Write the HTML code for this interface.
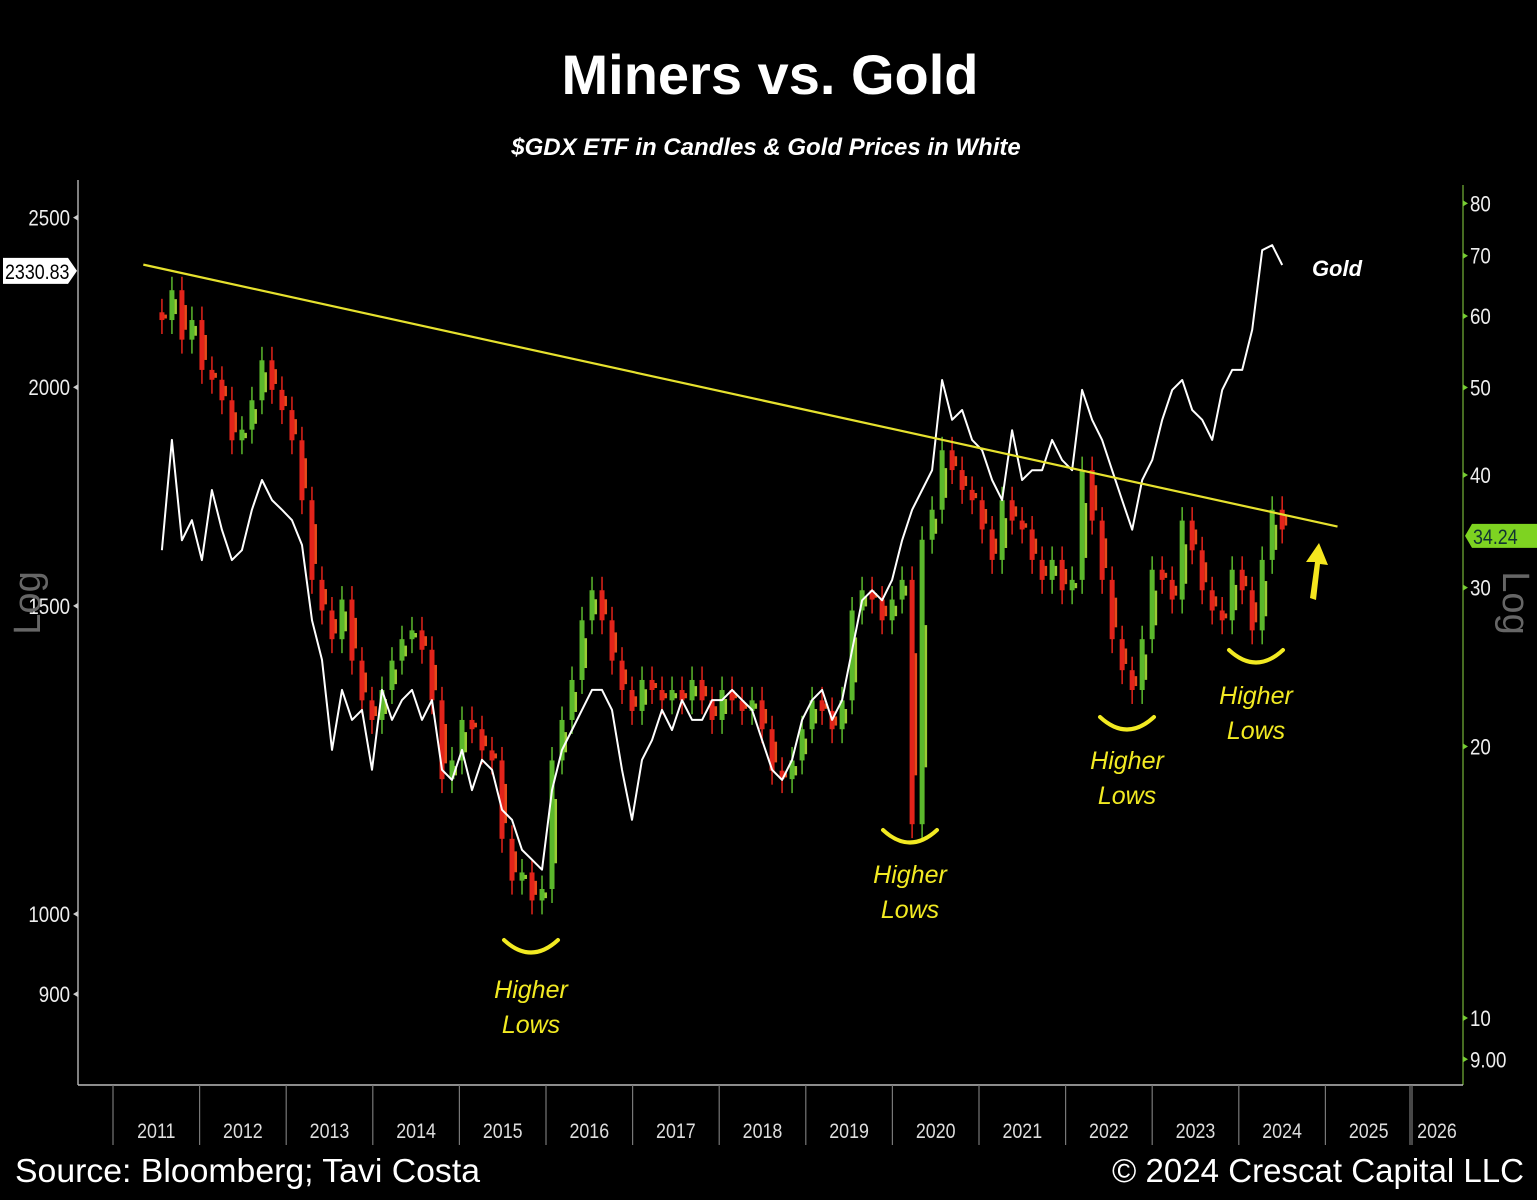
<!DOCTYPE html>
<html><head><meta charset="utf-8"><style>
html,body{margin:0;padding:0;background:#000;}
body{width:1537px;height:1200px;overflow:hidden;position:relative;font-family:"Liberation Sans",sans-serif;}
</style></head><body>
<svg id="chart" width="1537" height="1200" xmlns="http://www.w3.org/2000/svg" style="position:absolute;left:0;top:0">
<rect width="1537" height="1200" fill="#000"/>
<text x="770" y="94" text-anchor="middle" fill="#fff" font-size="56" font-weight="bold" font-family="Liberation Sans, sans-serif">Miners vs. Gold</text>
<text x="766" y="155" text-anchor="middle" fill="#fff" font-size="24" font-weight="bold" font-style="italic" font-family="Liberation Sans, sans-serif">$GDX ETF in Candles &amp; Gold Prices in White</text>
<g id="axes"></g>
<g id="candles"></g>
<g id="gold"></g>
<g id="annot"></g>
<text x="15" y="1182" fill="#fff" font-size="33" textLength="465" lengthAdjust="spacingAndGlyphs" font-family="Liberation Sans, sans-serif">Source: Bloomberg; Tavi Costa</text>
<text x="1112" y="1182" fill="#fff" font-size="33" textLength="412" lengthAdjust="spacingAndGlyphs" font-family="Liberation Sans, sans-serif">© 2024 Crescat Capital LLC</text>
</svg>
<script>
const yearLabels=["2011","2012","2013","2014","2015","2016","2017","2018","2019","2020","2021","2022","2023","2024","2025","2026"];
const goldTicks=[900,1000,1500,2000,2500];
const gdxTicks=[9,10,20,30,40,50,60,70,80];
const gdxTickLabels=["9.00","10","20","30","40","50","60","70","80"];
const seriesStart=2011.565;
const seriesStep=0.1155;
const goldPrices=[1614,1866,1635,1679,1593,1747,1658,1593,1614,1702,1770,1724,1702,1679,1625,1472,1397,1241,1343,1291,1308,1209,1343,1291,1325,1343,1291,1325,1209,1193,1241,1177,1225,1209,1147,1132,1088,1074,1060,1177,1241,1274,1308,1343,1343,1308,1209,1132,1225,1257,1308,1274,1325,1291,1291,1325,1325,1343,1325,1308,1257,1209,1193,1225,1291,1325,1343,1291,1325,1415,1511,1531,1511,1552,1635,1702,1747,1793,2019,1916,1941,1866,1841,1770,1724,1890,1770,1793,1793,1866,1817,1793,1993,1916,1866,1793,1724,1658,1770,1817,1916,1993,2019,1941,1916,1866,1993,2046,2046,2157,2395,2411,2349];
const gdxClose=[59.4,64.1,56.5,59.4,52.3,51.0,48.4,43.7,44.9,48.4,53.6,49.7,47.2,43.7,37.5,30.6,28.3,26.3,29.1,24.9,22.5,21.4,23.1,24.9,26.3,26.9,25.6,22.5,18.4,19.3,21.4,20.9,19.8,19.3,15.8,14.2,14.5,13.5,13.9,19.3,21.4,23.7,27.6,29.8,27.6,24.9,23.1,21.9,23.7,23.1,22.5,23.1,22.5,23.7,22.5,21.4,23.1,22.5,21.9,22.5,20.9,18.8,18.4,19.3,20.9,22.5,21.9,20.9,22.5,28.3,29.8,29.1,27.6,29.1,30.6,16.4,33.9,36.6,42.6,40.5,38.5,37.5,34.8,32.2,37.5,35.6,34.8,32.2,30.6,32.2,29.8,30.6,40.5,35.6,30.6,26.3,24.3,23.1,26.3,31.4,30.6,29.1,35.6,33.0,29.8,28.3,27.6,31.4,29.8,26.9,32.2,36.6,34.8];
const trendStart=[2011.35,2350];
const trendEnd=[2025.14,1665];
const NS="http://www.w3.org/2000/svg";
function xScale(t){return 113+(t-2011)*86.6;}
function yGold(p){return 914-1750*Math.log10(p/1000);}
function yGdx(p){return 1018-902*Math.log10(p/10);}
function mk(tag,attrs,parent,txt){const e=document.createElementNS(NS,tag);for(const k in attrs)e.setAttribute(k,attrs[k]);if(txt!==undefined)e.textContent=txt;parent.appendChild(e);return e;}
const axes=document.getElementById('axes');
let e;
e=mk('line',{x1:78,y1:180,x2:78,y2:1085,stroke:'#aaa','stroke-width':1.5},axes);


e=mk('line',{x1:1463,y1:185,x2:1463,y2:1085,stroke:'#5e8f2c','stroke-width':1.5},axes);


e=mk('line',{x1:78,y1:1085,x2:1463,y2:1085,stroke:'#bbb','stroke-width':1.5},axes);


yearLabels.forEach((lab,i)=>{
  const yr=+lab;
  const x0=xScale(yr);
  e=mk('line',{x1:x0,y1:1085,x2:x0,y2:1145,stroke:'#777','stroke-width':1.2},axes);
  
  
  const xc=Math.min(xScale(yr+0.5),1437);
  e=mk('text',{x:xc,y:1138,'text-anchor':'middle',fill:'#ddd','font-size':21,'font-family':'Liberation Sans Narrow, Liberation Sans, sans-serif',transform:`translate(${xc},0) scale(0.85,1) translate(${-xc},0)`},axes,lab);
  
  
});
e=mk('line',{x1:1410,y1:1085,x2:1410,y2:1145,stroke:'#777','stroke-width':1.2},axes);
goldTicks.forEach(v=>{
  const y=yGold(v);
  e=mk('text',{x:70,y:y+8,'text-anchor':'end',fill:'#eee','font-size':22,'font-family':'Liberation Sans, sans-serif',transform:`translate(70,0) scale(0.85,1) translate(-70,0)`},axes,String(v));
  
  
  mk('path',{d:`M73 ${y} l5 -3 v6z`,fill:'#ccc'},axes);
});
gdxTicks.forEach((v,i)=>{
  const y=yGdx(v);
  e=mk('text',{x:1470,y:y+8,fill:'#eee','font-size':22,'font-family':'Liberation Sans, sans-serif',transform:`translate(1470,0) scale(0.85,1) translate(-1470,0)`},axes,gdxTickLabels[i]);
  
  
  mk('path',{d:`M1468 ${y} l-5 -3 v6z`,fill:'#7c3'},axes);
});
const gy=yGold(2330.83);
e=mk('path',{d:`M3 ${gy-13} H68 L77 ${gy} L68 ${gy+13} H3 Z`,fill:'#fff'},axes);


mk('text',{x:5,y:gy+8,fill:'#000','font-size':21,'font-family':'Liberation Sans, sans-serif',transform:`translate(5,0) scale(0.85,1) translate(-5,0)`},axes,'2330.83');
const dy=yGdx(34.24);
e=mk('path',{d:`M1472 ${dy-12} H1537 V${dy+12} H1472 L1465 ${dy} Z`,fill:'#7ed321'},axes);


mk('text',{x:1473,y:dy+8,fill:'#133','font-size':21,'font-family':'Liberation Sans, sans-serif',transform:`translate(1473,0) scale(0.85,1) translate(-1473,0)`},axes,'34.24');
e=mk('text',{x:40,y:603,'text-anchor':'middle',fill:'#666','font-size':38,transform:'rotate(-90 40 603)'},axes,'Log');


e=mk('text',{x:1503,y:603,'text-anchor':'middle',fill:'#666','font-size':38,transform:'rotate(90 1503 603)'},axes,'Log');


const cg=document.getElementById('candles');
gdxClose.forEach((c,i)=>{
  const o=i===0?c*1.02:gdxClose[i-1];
  const t=seriesStart+i*seriesStep;
  const x=xScale(t);
  const up=c>=o;
  const col=up?'#5bb82c':'#e2231a';
  const hi=Math.max(o,c)*1.035, lo=Math.min(o,c)*0.965;
  const g=mk('g',{},cg);
  
  
  mk('line',{x1:x,y1:yGdx(hi),x2:x,y2:yGdx(lo),stroke:col,'stroke-width':1.5},g);
  const y1=yGdx(Math.max(o,c)),y2=yGdx(Math.min(o,c));
  mk('rect',{x:x-2.5,y:y1,width:5,height:Math.max(1.5,y2-y1),fill:col},g);
  mk('rect',{x:x+2.5,y:Math.min(y1,y2)+(y2-y1)*0.3,width:2.5,height:Math.max(1.5,(y2-y1)*0.5),fill:up?'#9c3':'#e84a1a'},g);
});
const pts=goldPrices.map((p,i)=>xScale(seriesStart+i*seriesStep).toFixed(1)+','+yGold(p).toFixed(1)).join(' ');
e=mk('polyline',{points:pts,fill:'none',stroke:'#fff','stroke-width':2,'stroke-linejoin':'round'},document.getElementById('gold'));


const an=document.getElementById('annot');
e=mk('line',{x1:xScale(trendStart[0]),y1:yGold(trendStart[1]),x2:xScale(trendEnd[0]),y2:yGold(trendEnd[1]),stroke:'#e6e12e','stroke-width':2.2},an);


e=mk('text',{x:1337,y:276,'text-anchor':'middle',fill:'#fff','font-size':22,'font-weight':'bold','font-style':'italic'},an,'Gold');


const hl=[[531,945,998],[910,835,883],[1127,722,769],[1256,655,704]];
hl.forEach(h=>{
  const [cx,ay,ty]=h;
  e=mk('path',{d:`M${cx-27} ${ay-5} Q${cx} ${ay+20} ${cx+27} ${ay-5}`,fill:'none',stroke:'#f2ea22','stroke-width':4,'stroke-linecap':'round'},an);
  
  
  e=mk('text',{x:cx,y:ty,'text-anchor':'middle',fill:'#f2ea22','font-size':25,'font-style':'italic'},an,'Higher');
  
  
  mk('text',{x:cx,y:ty+35,'text-anchor':'middle',fill:'#f2ea22','font-size':25,'font-style':'italic'},an,'Lows');
});
e=mk('path',{d:'M1310 598 L1315 562 L1306 562 L1319 543 L1328 565 L1320 564 L1316 600 Z',fill:'#f5e61e'},an);


</script>
</body></html>
